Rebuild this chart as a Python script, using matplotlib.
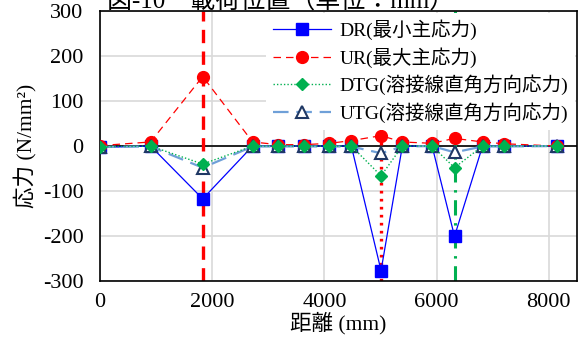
import matplotlib
matplotlib.use("Agg")
import matplotlib.pyplot as plt

plt.rcParams['font.family'] = ['Liberation Serif', 'Noto Sans CJK JP', 'DejaVu Sans']
plt.rcParams['axes.unicode_minus'] = False

distance = [0, 900, 1830, 2720, 3180, 3630, 4090, 4480, 5010, 5390, 5920, 6320, 6820, 7210, 8140]
dr  = [-3, 0, -117, 0, 0, 0, 0, 0, -276, 0, 0, -200, 0, 0, 0]
ur  = [1, 9, 154, 9, 3, 3, 6, 12, 23, 9, 6, 17, 9, 5, 0]
dtg = [-2, 0, -40, 0, 0, 0, 0, 0, -66, 0, 0, -48, 0, 0, 0]
utg = [-2, -1, -48, -1, -1, -1, -1, -1, -16, -1, 0, -14, -1, -1, 0]
load_positions = [1830, 5010, 6320]

labels = ['DR(最小主応力)', 'UR(最大主応力)', 'DTG(溶接線直角方向応力)', 'UTG(溶接線直角方向応力)']

fig = plt.figure(figsize=(5.82, 3.42), dpi=100)
ax = fig.add_axes([0.172, 0.177, 0.819, 0.792])

ax.set_xlim(0, 8500)
ax.set_ylim(-300, 300)
ax.set_xticks([0, 2000, 4000, 6000, 8000])
ax.set_yticks(range(-300, 301, 100))
ax.grid(True, color='#d9d9d9', linewidth=1.2, zorder=0)
ax.set_axisbelow(True)
ax.axhline(0, color='black', linewidth=1.2, zorder=1)

# load position lines
ax.axvline(load_positions[0], color='#ff0000', linestyle=(0, (4, 2.5)), linewidth=2.4, zorder=2)
ax.axvline(load_positions[1], color='#ff0000', linestyle=(0, (0.8, 1.6)), linewidth=2.4, zorder=2)
ax.axvline(load_positions[2], color='#00b050', linestyle=(0, (5, 2.5, 0.8, 2.5)), linewidth=2.2, zorder=2)

ax.plot(distance, dr, color='#0000ff', linewidth=0.9, marker='s', markersize=8,
        markerfacecolor='#0000ff', markeredgecolor='#0000ff', label=labels[0], zorder=3)
ax.plot(distance, ur, color='#ff0000', linewidth=0.9, linestyle=(0, (6, 4)), marker='o', markersize=8.5,
        markerfacecolor='#ff0000', markeredgecolor='#ff0000', label=labels[1], zorder=3)
ax.plot(distance, dtg, color='#00b050', linewidth=1.0, linestyle=(0, (1, 1.5)), marker='D', markersize=6,
        markerfacecolor='#00b050', markeredgecolor='#00b050', label=labels[2], zorder=5)
ax.plot(distance, utg, color='#6fa0d8', linewidth=1.6, linestyle=(0, (7, 3.5)), marker='^', markersize=8,
        markerfacecolor='white', markeredgecolor='#1f3864', markeredgewidth=1.5, label=labels[3], zorder=4)

for s in ax.spines.values():
    s.set_color('black')
    s.set_linewidth(1.2)
ax.tick_params(axis='both', length=0, labelsize=16)
ax.tick_params(axis='y', pad=12)
ax.tick_params(axis='x', pad=8)

ax.set_xlabel('距離 (mm)', fontsize=15.5, labelpad=0)
ax.set_ylabel('応力 (N/mm²)', fontsize=15.5, labelpad=4)

leg = ax.legend(loc='upper right', bbox_to_anchor=(1.0, 1.0), fontsize=14, frameon=True,
                handlelength=3.0, handletextpad=0.4, labelspacing=0.36, borderpad=0.35,
                borderaxespad=0.1)
leg.get_frame().set_edgecolor('none')
leg.get_frame().set_facecolor('white')
leg.get_frame().set_alpha(1.0)
leg.set_zorder(10)

fig.text(0.483, 1 - 8 / 342, '図-10　載荷位置（単位：mm）', fontsize=18, ha='center', va='baseline')

fig.savefig('out.png', dpi=100)
